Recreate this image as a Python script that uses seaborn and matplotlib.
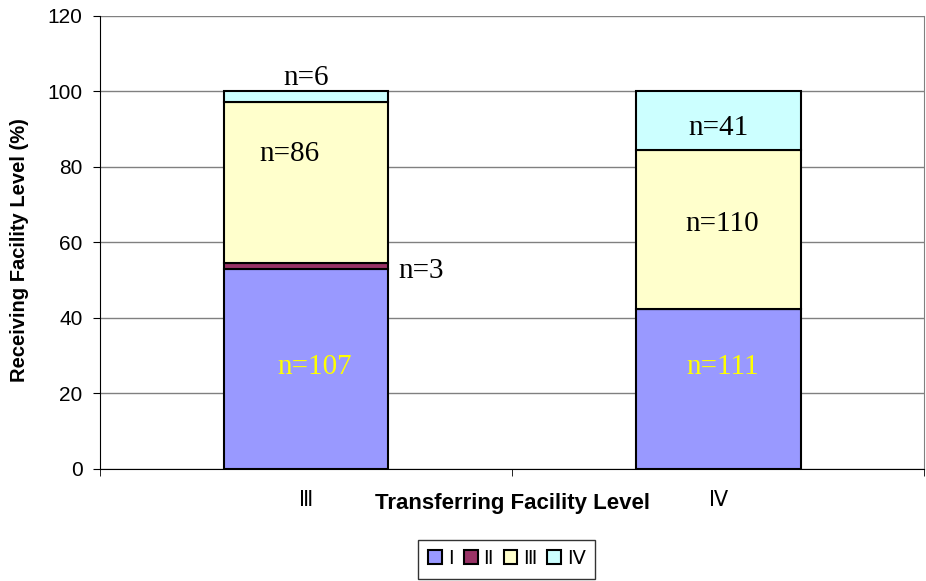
import pandas as pd
import matplotlib.pyplot as plt
import seaborn as sns

# counts per receiving level for each transferring level
transferring = ["Ⅲ", "Ⅳ"]
receiving = ["Ⅰ", "Ⅱ", "Ⅲ", "Ⅳ"]
counts_III = [107, 3, 86, 6]
counts_IV = [111, 0, 110, 41]
colors = ["#9999FF", "#993366", "#FFFFCC", "#CCFFFF"]

rows = []
for t, cnts in zip(transferring, [counts_III, counts_IV]):
    total = sum(cnts)
    for r, c in zip(receiving, cnts):
        rows.append({"transfer": t, "receive": r, "n": c, "pct": 100 * c / total})
df = pd.DataFrame(rows)

sns.set_style("white")
plt.rcParams["font.family"] = ["Liberation Sans", "DejaVu Sans"]
plt.rcParams["text.color"] = "black"
plt.rcParams["axes.labelcolor"] = "black"
plt.rcParams["xtick.color"] = "black"
plt.rcParams["ytick.color"] = "black"

fig = plt.figure(figsize=(9.26, 5.81), dpi=100)
ax = fig.add_axes([0.108, 0.193, 0.890, 0.780])

bottom = pd.Series([0.0, 0.0], index=transferring)
for r, col in zip(receiving, colors):
    sub = df[df["receive"] == r].set_index("transfer").loc[transferring]
    sns.barplot(x=transferring, y=sub["pct"].values, bottom=bottom.values,
                color=col, edgecolor="black", linewidth=1.5, width=0.4,
                saturation=1, ax=ax, zorder=3)
    bottom = bottom + sub["pct"].values

ax.set_xlim(-0.5, 1.5)
ax.set_ylim(0, 120)
ax.set_yticks(range(0, 121, 20))
ax.yaxis.grid(True, color="#808080", lw=1)
ax.set_axisbelow(True)
ax.spines["top"].set_visible(False)
ax.spines["right"].set_color("#808080")
ax.spines["left"].set_color("black")
ax.spines["bottom"].set_color("black")
ax.tick_params(axis="y", left=True, length=5, labelsize=15, color="black", pad=7.5)
ax.set_xticks([0, 1])
ax.set_xticks([-0.5, 0.5, 1.5], minor=True)
ax.tick_params(axis="x", which="major", length=0, labelsize=15, pad=16)
ax.tick_params(axis="x", which="minor", bottom=True, length=5, color="black")
ax.set_xlabel("Transferring Facility Level", fontsize=16, fontweight="bold", labelpad=-12)
ax.set_ylabel("Receiving Facility Level (%)", fontsize=14.5, fontweight="bold")
ax.yaxis.set_label_coords(-0.086, 0.482)

# n= labels
labels = [("n=6", 0.0, 103.5, "black"), ("n=86", -0.04, 83.5, "black"),
          ("n=3", 0.28, 52.3, "black"), ("n=107", 0.02, 27, "yellow"),
          ("n=41", 1.0, 90.3, "black"), ("n=110", 1.01, 64.8, "black"),
          ("n=111", 1.01, 27, "yellow")]
for txt, x, y, c in labels:
    ax.text(x, y, txt, ha="center", va="center", fontsize=21, color=c,
            family="Liberation Serif", zorder=5)

handles = [plt.Rectangle((0, 0), 1, 1, facecolor=c, edgecolor="black", lw=1.5) for c in colors]
leg = fig.legend(handles, receiving, loc="lower center", bbox_to_anchor=(0.547, 0.004),
                 ncol=4, fontsize=14, frameon=True, fancybox=False, handlelength=0.7,
                 handleheight=0.7, handletextpad=0.3, columnspacing=0.55,
                 borderpad=0.55, borderaxespad=0)
leg.get_frame().set_edgecolor("black")

fig.savefig("out.png", dpi=100)
